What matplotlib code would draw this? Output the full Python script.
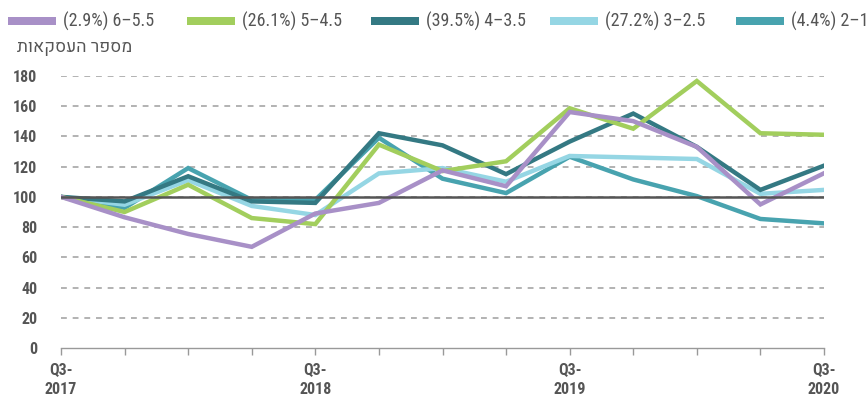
import matplotlib
matplotlib.use("Agg")
import matplotlib.pyplot as plt
from matplotlib.patches import Rectangle

plt.rcParams["font.family"] = ["Roboto Condensed", "Heebo", "DejaVu Sans"]

# ── data ────────────────────────────────────────────────────────────────
quarters = list(range(13))
tick_pos = [0, 4, 8, 12]
tick_labels = ["Q3-\n2017", "Q3-\n2018", "Q3-\n2019", "Q3-\n2020"]

s_2_1   = [100, 92.7, 119, 98, 98, 139, 112, 102.5, 126.5, 111.5, 100.5, 85.4, 82.5]
s_3_25  = [100, 94.8, 111, 94, 88, 115.5, 119, 110, 127, 126, 125, 102, 104.6]
s_4_35  = [100, 97, 113.6, 97, 96, 142, 134, 115, 136.5, 155, 133, 104.6, 120.6]
s_5_45  = [100, 90, 108, 86, 82, 134.5, 117, 123.5, 158.5, 145, 176.5, 142, 141]
s_6_55  = [100, 86.5, 75.5, 67, 89, 96, 117.5, 107, 156, 150, 133, 95, 115.6]

labels = ["(2.9%) 6–5.5", "(26.1%) 5–4.5", "(39.5%) 4–3.5",
          "(27.2%) 3–2.5", "(4.4%) 2–1"]
colors = ["#A890C7", "#A2CE5D", "#347983", "#95D6E4", "#48A3AF"]
series = [s_6_55, s_5_45, s_4_35, s_3_25, s_2_1]

ylabel = "מספר העסקאות"

W, H = 868, 400
TXT = "#555555"

# ── plot ────────────────────────────────────────────────────────────────
fig = plt.figure(figsize=(W / 100, H / 100), dpi=100)
ax = fig.add_axes([61 / W, 1 - 348.3 / H, (824 - 61) / W, (348.3 - 75.7) / H])

for y in range(20, 181, 20):
    ax.axhline(y, color="#A6A6A6", linewidth=1.2, linestyle=(0, (3.5, 3.5)), zorder=1)

# draw in reverse legend order so purple ends up on top
for vals, col in list(zip(series, colors))[::-1]:
    ax.plot(quarters, vals, color=col, linewidth=3.2, solid_joinstyle="miter", zorder=3)

ax.axhline(100, color="#555555", linewidth=1.8, zorder=4)

ax.set_xlim(0, 12)
ax.set_ylim(0, 180)
ax.set_yticks(range(0, 181, 20))
ax.tick_params(axis="y", length=0, pad=17, labelsize=11.5, labelcolor=TXT)
for t in ax.get_yticklabels():
    t.set_fontweight("bold")

ax.set_xticks(quarters, minor=True)
ax.set_xticks(tick_pos)
ax.set_xticklabels(tick_labels, linespacing=1.4)
ax.tick_params(axis="x", which="both", direction="out", length=5, width=1,
               color="#999999", labelsize=11.5, labelcolor=TXT, pad=5)
for t in ax.get_xticklabels():
    t.set_fontweight("bold")

for side in ["top", "right", "left"]:
    ax.spines[side].set_visible(False)
ax.spines["bottom"].set_color("#999999")
ax.spines["bottom"].set_linewidth(1)
ax.spines["bottom"].set_zorder(5)

# ── legend row (manual, so the swatches line up like the original) ──────
leg_x = [8, 187, 371, 550, 736]
for x0, lab, col in zip(leg_x, labels, colors):
    fig.add_artist(Rectangle((x0 / W, 1 - 25 / H), 48 / W, 8 / H,
                             transform=fig.transFigure, color=col, lw=0))
    fig.text((x0 + 55) / W, 1 - 21 / H, lab, ha="left", va="center",
             fontsize=13, color=TXT)

# hebrew shown right-to-left
fig.text(17 / W, 1 - 48 / H, ylabel[::-1], ha="left", va="center",
         fontsize=12.5, color=TXT, fontweight="bold", family=["Heebo", "DejaVu Sans"])

fig.savefig("out.png", dpi=100)
